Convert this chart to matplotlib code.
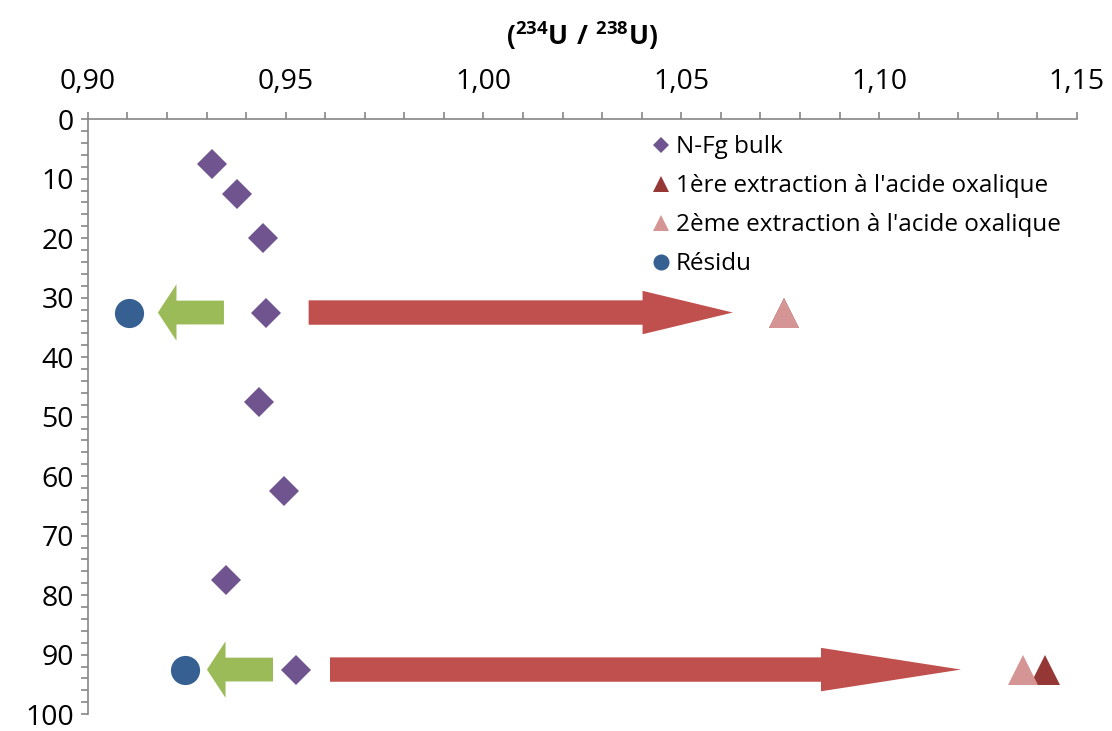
import matplotlib
matplotlib.use("Agg")
import matplotlib.pyplot as plt
from matplotlib.ticker import MultipleLocator, FuncFormatter
from matplotlib.patches import FancyArrow

plt.rcParams['font.family'] = ['Open Sans', 'DejaVu Sans']
plt.rcParams['mathtext.fontset'] = 'custom'
plt.rcParams['mathtext.rm'] = 'Open Sans'
plt.rcParams['mathtext.bf'] = 'Open Sans:bold'

# profondeur (cm) et rapport (234U/238U)
bulk_depth = [7.5, 12.5, 20, 32.5, 47.5, 62.5, 77.5, 92.5]
bulk_ratio = [0.9313, 0.9377, 0.9442, 0.9450, 0.9432, 0.9495, 0.9349, 0.9526]
ext1_depth = [32.5, 92.5]
ext1_ratio = [1.0760, 1.1420]
ext2_depth = [32.5, 92.5]
ext2_ratio = [1.0760, 1.1363]
res_depth = [32.5, 92.5]
res_ratio = [0.9104, 0.9245]

# flèches : (profondeur, départ, arrivée)
green_arrows = [(32.5, 0.9344, 0.9177), (92.5, 0.9468, 0.9301)]
red_arrows = [(32.5, 0.9558, 1.0630), (92.5, 0.9612, 1.1207)]

fig = plt.figure(figsize=(11.12, 7.31), dpi=100)
ax = fig.add_axes([0.079, 0.023, 0.8895, 0.814])

for d, x0, x1 in green_arrows:
    ax.add_patch(FancyArrow(x0, d, x1 - x0, 0, width=4.0, head_width=9.5,
                            head_length=0.0047, length_includes_head=True,
                            color='#9BBB59', lw=0, zorder=2))
for i, (d, x0, x1) in enumerate(red_arrows):
    hl = [0.0228, 0.0354][i]
    ax.add_patch(FancyArrow(x0, d, x1 - x0, 0, width=4.1, head_width=7.3,
                            head_length=hl, length_includes_head=True,
                            color='#C0504D', lw=0, zorder=2))

ax.plot(bulk_ratio, bulk_depth, 'D', color='#70548F', ms=15, mew=0,
        label='N-Fg bulk', zorder=3)
ax.plot(ext1_ratio, ext1_depth, '^', color='#953735', ms=21, mew=0,
        label="1ère extraction à l'acide oxalique", zorder=3)
ax.plot(ext2_ratio, ext2_depth, '^', color='#D49594', ms=21, mew=0,
        label="2ème extraction à l'acide oxalique", zorder=4)
ax.plot(res_ratio, res_depth, 'o', color='#366092', ms=21, mew=0,
        label='Résidu', zorder=3)

ax.set_xlim(0.90, 1.15)
ax.set_ylim(100, 0)
ax.xaxis.tick_top()
ax.xaxis.set_label_position('top')
ax.xaxis.set_major_locator(MultipleLocator(0.05))
ax.xaxis.set_minor_locator(MultipleLocator(0.01))
ax.yaxis.set_major_locator(MultipleLocator(10))
ax.yaxis.set_minor_locator(MultipleLocator(2))
ax.xaxis.set_major_formatter(FuncFormatter(lambda v, p: f"{v:.2f}".replace('.', ',')))
ax.set_xlabel(r'$\mathbf{(^{234}U\ /\ ^{238}U)}$', fontsize=19, labelpad=16)

for s in ['right', 'bottom']:
    ax.spines[s].set_visible(False)
for s in ['left', 'top']:
    ax.spines[s].set_color('#868686')
    ax.spines[s].set_linewidth(1.2)
ax.tick_params(which='both', color='#868686', width=1.2, length=5, labelsize=20.5)
ax.tick_params(axis='x', which='major', pad=12)
ax.tick_params(axis='y', which='major', pad=5)

ax.legend(loc='upper left', bbox_to_anchor=(0.545, 1.01), frameon=False,
          fontsize=17.5, markerscale=0.55, handletextpad=0.1, labelspacing=0.62,
          handlelength=1.0)

fig.savefig('out.png', dpi=100)
